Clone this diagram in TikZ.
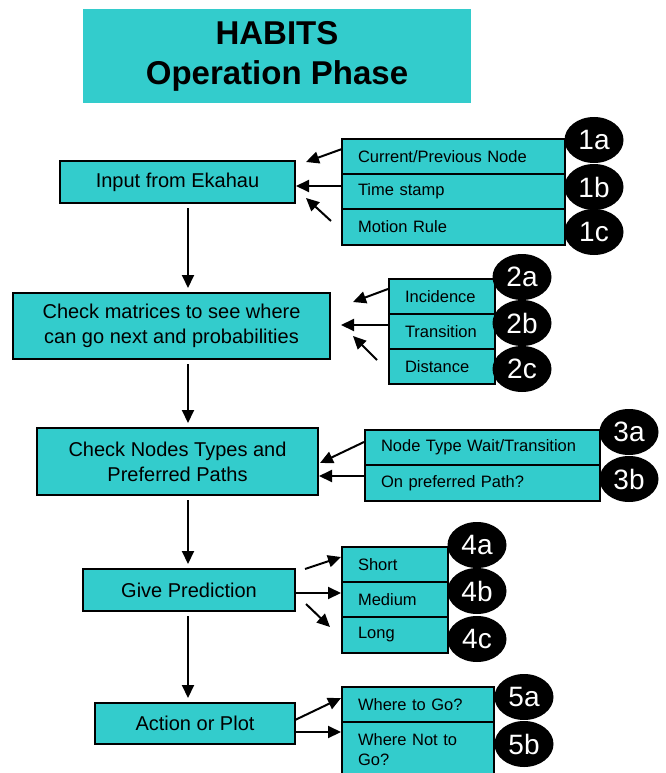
\documentclass[tikz,border=0pt]{standalone}
\usepackage{fontspec}
\setmainfont{Liberation Sans}
\usetikzlibrary{arrows.meta,shapes.geometric}
\definecolor{boxfill}{RGB}{51,204,204}
\begin{document}
\begin{tikzpicture}[x=1pt,y=-1pt,
  mainbox/.style={draw=black, line width=2pt, fill=boxfill, align=center, font=\fontsize{20}{25}\selectfont, inner sep=0pt},
  subbox/.style={draw=black, line width=2pt, fill=boxfill, anchor=north west, inner xsep=16pt, inner ysep=0pt, minimum height=35pt, align=left, font=\fontsize{16.5}{20}\selectfont},
  tag/.style={ellipse, fill=black, text=white, minimum width=59pt, minimum height=46pt, inner sep=0pt, font=\fontsize{28}{28}\selectfont},
  arr/.style={line width=2pt, -{Triangle[length=13pt,width=12pt]}},
]
\useasboundingbox (0,0) rectangle (666,773);
\clip (0,0) rectangle (666,773);

% title
\node[fill=boxfill, minimum width=388pt, minimum height=94pt, inner sep=0pt, align=center, font=\bfseries\fontsize{33}{40}\selectfont] (title) at (277,56) {HABITS\\Operation Phase};

% main boxes
\node[mainbox, minimum width=235pt, minimum height=42pt] (input) at (177.5,182) {Input from Ekahau};
\node[mainbox, minimum width=317pt, minimum height=66pt] (check) at (171.5,326) {Check matrices to see where\\can go next and probabilities};
\node[mainbox, minimum width=281pt, minimum height=67pt] (types) at (177.5,461.5) {Check Nodes Types and\\Preferred Paths};
\node[mainbox, minimum width=212pt, minimum height=42pt] (pred) at (189,590) {Give Prediction};
\node[mainbox, minimum width=200pt, minimum height=41pt] (act) at (195,723.5) {Action or Plot};

% vertical arrows
\coordinate (vx) at (188,0);
\draw[arr, shorten <=4pt, shorten >=4pt] (input.south -| vx) -- (check.north -| vx);
\draw[arr, shorten <=4pt, shorten >=4pt] (check.south -| vx) -- (types.north -| vx);
\draw[arr, shorten <=4pt, shorten >=4pt] (types.south -| vx) -- (pred.north -| vx);
\draw[arr, shorten <=4pt, shorten >=4pt] (pred.south -| vx) -- (act.north -| vx);

% group 1
\node[subbox, text width=191pt] (g1a) at (341,138) {Current/Previous Node};
\node[subbox, text width=191pt] (g1b) at (341,173) {Time stamp};
\node[subbox, text width=191pt, minimum height=36pt] (g1c) at (341,208) {Motion Rule};
% group 2
\node[subbox, text width=74pt] (g2a) at (388,278) {Incidence};
\node[subbox, text width=74pt] (g2b) at (388,313) {Transition};
\node[subbox, text width=74pt] (g2c) at (388,348) {Distance};
% group 3
\node[subbox, text width=203pt] (g3a) at (364,429) {Node Type Wait/Transition};
\node[subbox, text width=203pt, minimum height=36pt] (g3b) at (364,464) {On preferred Path?};
% group 4
\node[subbox, text width=74pt] (g4a) at (341,546) {Short};
\node[subbox, text width=74pt] (g4b) at (341,581) {Medium};
\node[subbox, text width=74pt, minimum height=36pt] (g4c) at (341,616) {Long};
% group 5
\node[subbox, text width=120pt] (g5a) at (341,686) {Where to Go?};
\node[subbox, text width=120pt, minimum height=56pt] (g5b) at (341,721) {Where Not to Go?};

% tags
\node[tag] (t1a) at (594,140) {1a};
\node[tag] (t1b) at (594,187) {1b};
\node[tag] (t1c) at (594,232) {1c};
\node[tag] (t2a) at (522,277) {2a};
\node[tag] (t2b) at (522,323) {2b};
\node[tag] (t2c) at (522,369) {2c};
\node[tag] (t3a) at (629,432) {3a};
\node[tag] (t3b) at (629,479) {3b};
\node[tag] (t4a) at (477,545) {4a};
\node[tag] (t4b) at (477,591) {4b};
\node[tag] (t4c) at (477,639) {4c};
\node[tag] (t5a) at (524,697) {5a};
\node[tag] (t5b) at (524,744) {5b};

% side arrow end points
\coordinate (s1a) at (342,149); \coordinate (e1a) at (306,162);
\coordinate (s1b) at (341,186); \coordinate (e1b) at (296,186);
\coordinate (s1c) at (331,221); \coordinate (e1c) at (306,198);
\coordinate (s2a) at (388,289); \coordinate (e2a) at (353,302);
\coordinate (s2b) at (388,325); \coordinate (e2b) at (341,325);
\coordinate (s2c) at (377,360); \coordinate (e2c) at (353,336);
\coordinate (s3a) at (364,442); \coordinate (e3a) at (320,463);
\coordinate (s3b) at (364,476); \coordinate (e3b) at (319,476);
\coordinate (s4a) at (305,569); \coordinate (e4a) at (341,557);
\coordinate (s4b) at (295,593); \coordinate (e4b) at (341,593);
\coordinate (s4c) at (306,604); \coordinate (e4c) at (330,627);
\coordinate (s5a) at (295,720); \coordinate (e5a) at (341,698);
\coordinate (s5b) at (295,732); \coordinate (e5b) at (341,732);

\foreach \k in {1a,1b,1c,2a,2b,2c,3a,3b,4a,4b,4c,5a,5b}
  \draw[arr] (s\k) -- (e\k);
\end{tikzpicture}
\end{document}
